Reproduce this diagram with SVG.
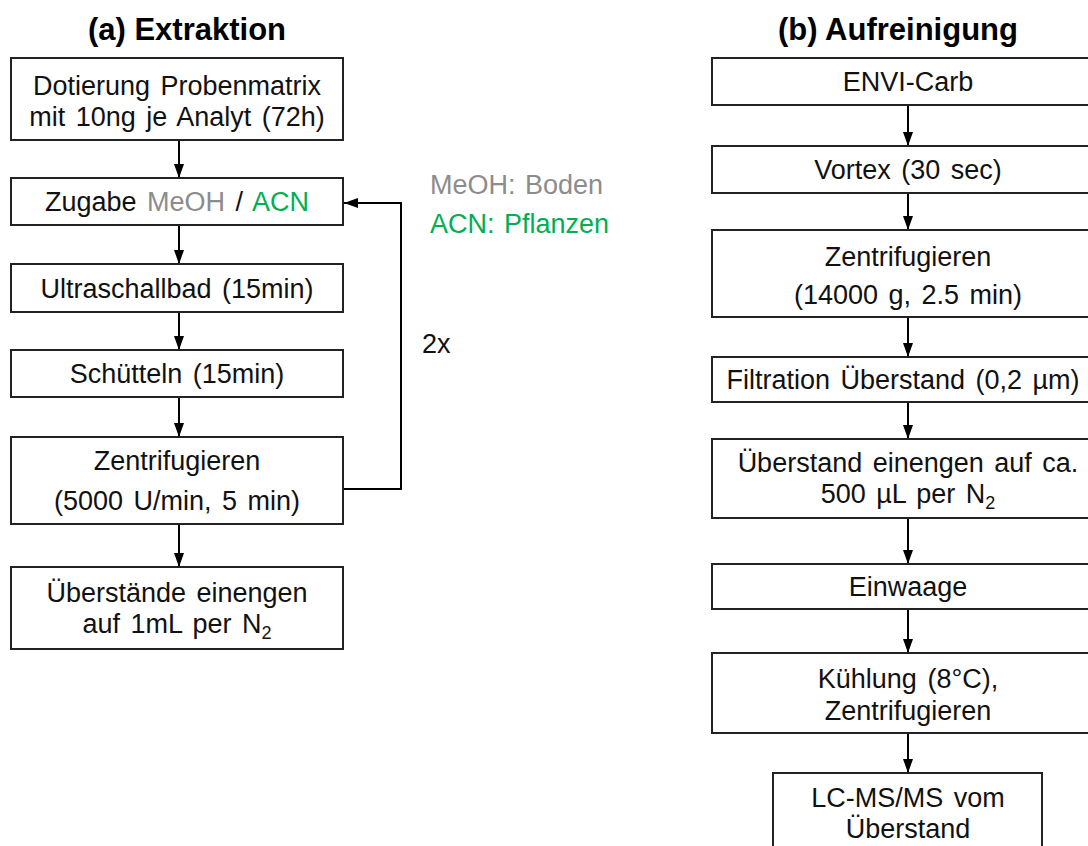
<svg xmlns="http://www.w3.org/2000/svg" width="1088" height="846" viewBox="0 0 1088 846">
<defs>
<style>
.box{fill:#fff;stroke:#222;stroke-width:2}
.t{font-family:"Liberation Sans",Arial,sans-serif;font-size:27px;fill:#111;text-anchor:middle;word-spacing:3px}
.title{font-family:"Liberation Sans",Arial,sans-serif;font-size:31px;font-weight:bold;fill:#000;text-anchor:middle}
.side{font-family:"Liberation Sans",Arial,sans-serif;font-size:27px;word-spacing:2px}
.gray{fill:#8c8c8c}
.green{fill:#00b050}
.con{fill:none;stroke:#000;stroke-width:2}
.sub{font-size:18px}
</style>
<marker id="ah" viewBox="0 0 14 10" refX="14" refY="5" markerWidth="14" markerHeight="10" markerUnits="userSpaceOnUse" orient="auto">
<path d="M0,0 L14,5 L0,10 z" fill="#000"/>
</marker>
</defs>
<rect width="1088" height="846" fill="#fff"/>
<text class="title" x="187" y="40">(a) Extraktion</text>
<text class="title" x="898" y="40">(b) Aufreinigung</text>

<g id="connectors">
<line class="con" x1="179" y1="140" x2="179" y2="178" marker-end="url(#ah)"/>
<line class="con" x1="179" y1="225" x2="179" y2="264" marker-end="url(#ah)"/>
<line class="con" x1="179" y1="312" x2="179" y2="350" marker-end="url(#ah)"/>
<line class="con" x1="179" y1="397" x2="179" y2="437" marker-end="url(#ah)"/>
<line class="con" x1="179" y1="524" x2="179" y2="567" marker-end="url(#ah)"/>
<polyline class="con" points="343,489 401,489 401,203 344,203" marker-end="url(#ah)"/>
<line class="con" x1="908" y1="105" x2="908" y2="146" marker-end="url(#ah)"/>
<line class="con" x1="908" y1="193" x2="908" y2="230" marker-end="url(#ah)"/>
<line class="con" x1="908" y1="317" x2="908" y2="357" marker-end="url(#ah)"/>
<line class="con" x1="908" y1="402" x2="908" y2="439" marker-end="url(#ah)"/>
<line class="con" x1="908" y1="518" x2="908" y2="564" marker-end="url(#ah)"/>
<line class="con" x1="908" y1="609" x2="908" y2="653" marker-end="url(#ah)"/>
<line class="con" x1="908" y1="733" x2="908" y2="773" marker-end="url(#ah)"/>
</g>

<g id="a1"><rect class="box" x="11" y="58" width="332" height="82"/>
<text class="t" x="177" y="95">Dotierung Probenmatrix</text>
<text class="t" x="177" y="126">mit 10ng je Analyt (72h)</text></g>
<g id="a2"><rect class="box" x="11" y="178" width="332" height="47"/>
<text class="t" x="177" y="211">Zugabe <tspan class="gray">MeOH</tspan> / <tspan class="green">ACN</tspan></text></g>
<g id="a3"><rect class="box" x="11" y="264" width="332" height="48"/>
<text class="t" x="177" y="298">Ultraschallbad (15min)</text></g>
<g id="a4"><rect class="box" x="11" y="350" width="332" height="47"/>
<text class="t" x="177" y="383">Schütteln (15min)</text></g>
<g id="a5"><rect class="box" x="11" y="437" width="332" height="87"/>
<text class="t" x="177" y="470">Zentrifugieren</text>
<text class="t" x="177" y="510">(5000 U/min, 5 min)</text></g>
<g id="a6"><rect class="box" x="11" y="567" width="332" height="82"/>
<text class="t" x="177" y="602">Überstände einengen</text>
<text class="t" x="177" y="633">auf 1mL per N<tspan class="sub" dy="6">2</tspan></text></g>

<g id="legend">
<text class="side gray" x="430" y="194">MeOH: Boden</text>
<text class="side green" x="430" y="233">ACN: Pflanzen</text>
<text class="side" x="422" y="353" fill="#111">2x</text>
</g>

<g id="b1"><rect class="box" x="712" y="58" width="392" height="47"/>
<text class="t" x="908" y="91">ENVI-Carb</text></g>
<g id="b2"><rect class="box" x="712" y="146" width="392" height="47"/>
<text class="t" x="908" y="179">Vortex (30 sec)</text></g>
<g id="b3"><rect class="box" x="712" y="230" width="392" height="87"/>
<text class="t" x="908" y="266">Zentrifugieren</text>
<text class="t" x="908" y="304">(14000 g, 2.5 min)</text></g>
<g id="b4"><rect class="box" x="712" y="357" width="392" height="45"/>
<text class="t" x="903" y="389">Filtration Überstand (0,2 µm)</text></g>
<g id="b5"><rect class="box" x="712" y="439" width="392" height="79"/>
<text class="t" x="908" y="472">Überstand einengen auf ca.</text>
<text class="t" x="908" y="503">500 µL per N<tspan class="sub" dy="6">2</tspan></text></g>
<g id="b6"><rect class="box" x="712" y="564" width="392" height="45"/>
<text class="t" x="908" y="596">Einwaage</text></g>
<g id="b7"><rect class="box" x="712" y="653" width="392" height="80"/>
<text class="t" x="908" y="688">Kühlung (8°C),</text>
<text class="t" x="908" y="720">Zentrifugieren</text></g>
<g id="b8"><rect class="box" x="773" y="773" width="269" height="90"/>
<text class="t" x="908" y="807">LC-MS/MS vom</text>
<text class="t" x="908" y="838">Überstand</text></g>
</svg>
